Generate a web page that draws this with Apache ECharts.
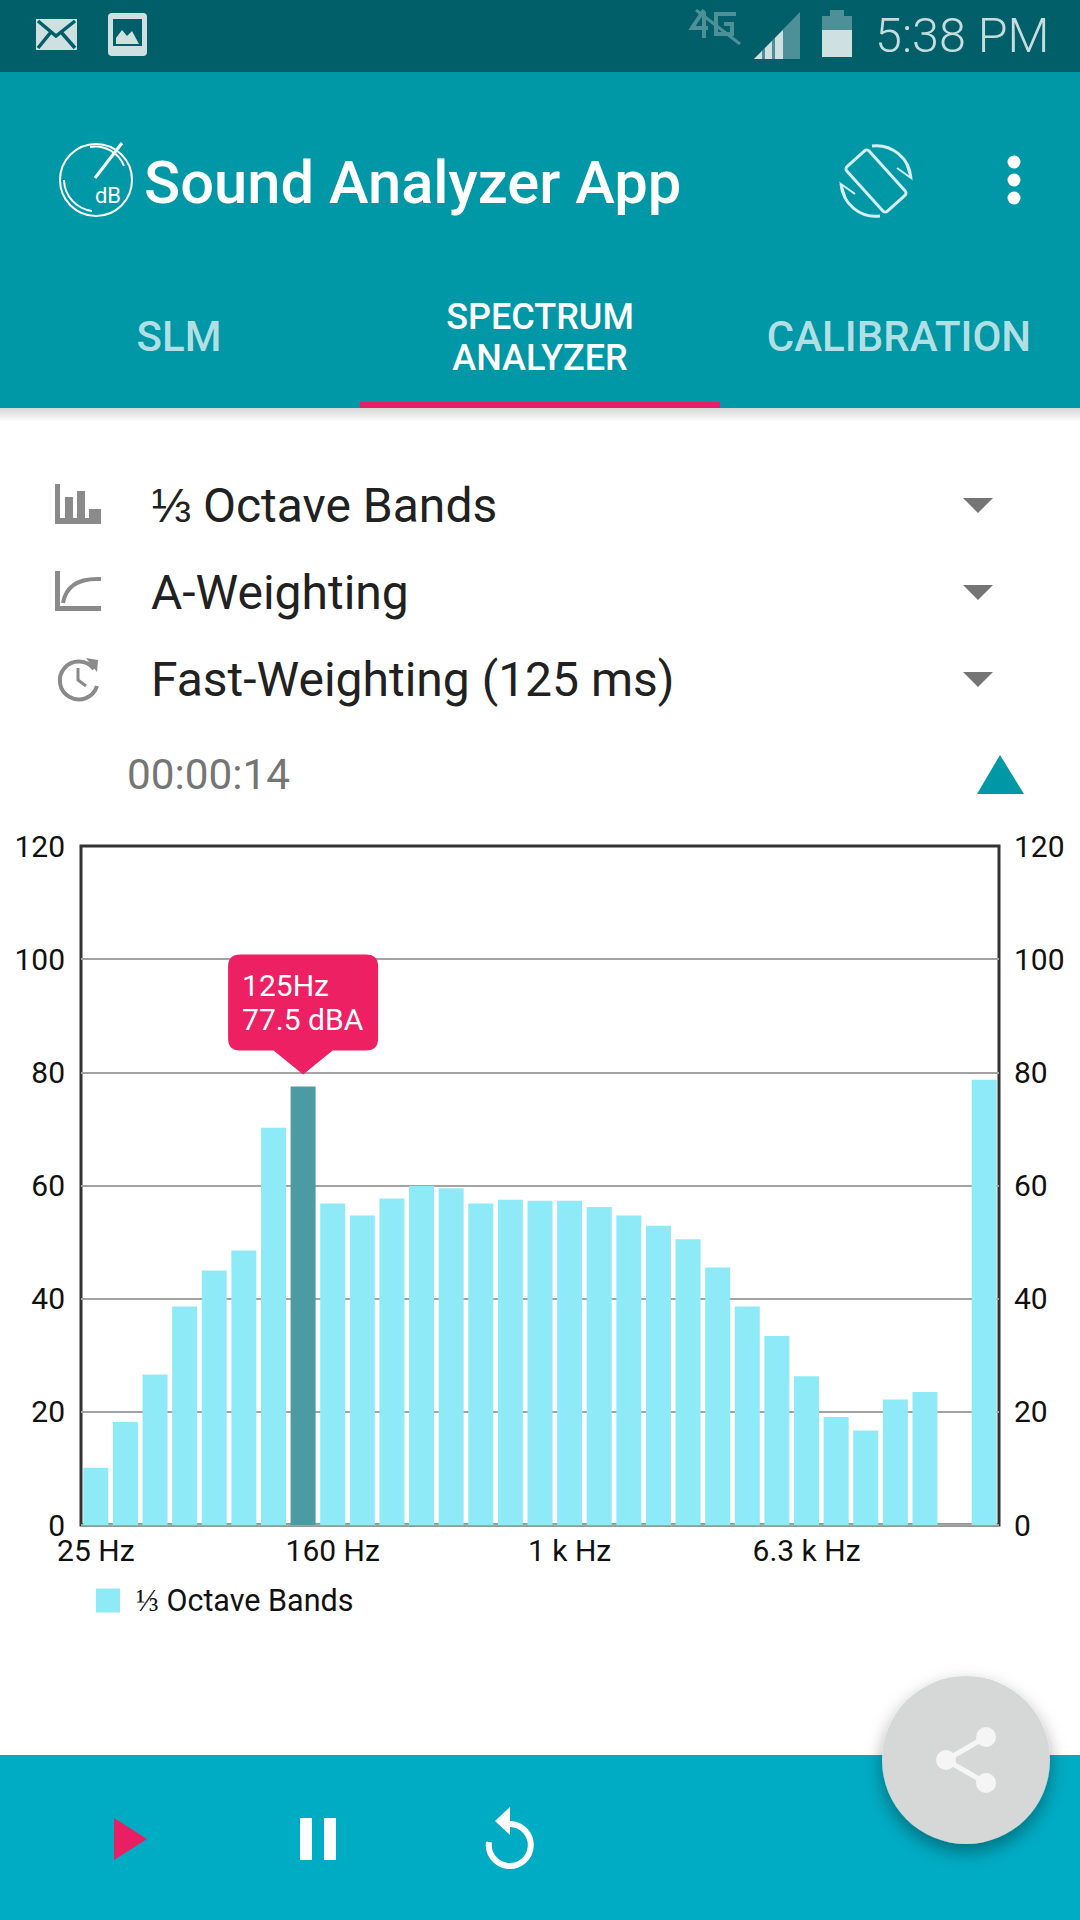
<!DOCTYPE html>
<html>
<head>
<meta charset="utf-8">
<title>Sound Analyzer App</title>
<script src="https://cdn.jsdelivr.net/npm/echarts@6/dist/echarts.min.js"></script>
<style>
  html, body { margin: 0; padding: 0; background: #fff; }
  #page { position: relative; width: 1080px; height: 1920px; overflow: hidden; font-family: Roboto, sans-serif; }
  #chrome { position: absolute; left: 0; top: 0; }
  #chart { position: absolute; left: 0; top: 820px; width: 1080px; height: 820px; }
  #fab { position: absolute; left: 0; top: 0; }
  text { font-family: Roboto, sans-serif; }
</style>
</head>
<body>
<div id="page">
  <svg id="chrome" width="1080" height="1920" viewBox="0 0 1080 1920">
    <defs>
      <linearGradient id="barShadow" x1="0" y1="0" x2="0" y2="1">
        <stop offset="0" stop-color="#000" stop-opacity="0.16"/>
        <stop offset="1" stop-color="#000" stop-opacity="0"/>
      </linearGradient>
    </defs>
    <!-- status bar -->
    <rect x="0" y="0" width="1080" height="72" fill="#005f69"/>
    <rect x="36" y="19" width="41" height="31" fill="#cfe0e0"/>
    <path d="M38 21 L56 36 L75 21 M38 48 L51 32 M75 48 L61 32" fill="none" stroke="#005f69" stroke-width="3.5"/>
    <rect x="108" y="13" width="39" height="43" rx="4" fill="#cfe0e0"/>
    <rect x="113" y="19" width="29" height="27" fill="#005f69"/>
    <path d="M116 44 L116 38 L122 30 L127 36 L132 31 L139 44 Z" fill="#cfe0e0"/>
    <g fill="none" stroke="#4d9097" stroke-width="4">
      <path d="M704 10 L692 28 L708 28 M704 12 L704 38"/>
      <path d="M736 14 L716 14 L716 34 L732 34 L732 24 L724 24"/>
      <path d="M696 10 L740 44" stroke-width="3"/>
    </g>
    <path d="M754 59 L800 12 L800 59 Z" fill="#4d9097"/>
    <path d="M754 59 L762 51 L762 59 Z M765 59 L765 48 L772 41 L772 59 Z M775 59 L775 38 L783 30 L783 59 Z" fill="#cfe0e0"/>
    <rect x="822" y="16" width="30" height="41" fill="#cfe0e0"/>
    <rect x="822" y="16" width="30" height="14" fill="#4d9097"/>
    <rect x="830" y="10" width="14" height="6" fill="#4d9097"/>
    <text x="875" y="52" font-size="48.5" font-weight="300" fill="#c6dcdd">5:38 PM</text>

    <!-- toolbar and tabs -->
    <rect x="0" y="72" width="1080" height="336" fill="#0097a7"/>
    <rect x="0" y="408" width="1080" height="14" fill="url(#barShadow)"/>
    <g fill="none" stroke="#fff" stroke-width="2">
      <circle cx="96" cy="180" r="36"/>
      <path d="M90 147 A31 31 0 0 1 124 166"/>
      <path d="M64 180 A32 32 0 0 0 92 211"/>
      <path d="M95 178 L122 143" stroke-width="3"/>
    </g>
    <text x="108" y="203" font-size="22" fill="#fff" text-anchor="middle">dB</text>
    <text x="144" y="203" font-size="59.7" font-weight="500" fill="#fff">Sound Analyzer App</text>
    <g fill="none" stroke="#d7eef0" stroke-width="3">
      <rect x="-15" y="-30" width="30" height="60" rx="3" transform="translate(876 181) rotate(-42)"/>
      <path d="M872 146 A35 35 0 0 1 911 178"/>
      <path d="M841 184 A35 35 0 0 0 880 216"/>
      <path d="M905 160 L911 178 L897 168" stroke-width="2"/>
      <path d="M847 202 L841 184 L855 194" stroke-width="2"/>
    </g>
    <circle cx="1014" cy="162" r="6.5" fill="#fff"/>
    <circle cx="1014" cy="180" r="6.5" fill="#fff"/>
    <circle cx="1014" cy="198" r="6.5" fill="#fff"/>
    <text x="179" y="351" font-size="42" font-weight="500" fill="#b2dfe3" text-anchor="middle">SLM</text>
    <text x="540" y="329" font-size="36" font-weight="500" fill="#fff" text-anchor="middle">SPECTRUM</text>
    <text x="540" y="370" font-size="36" font-weight="500" fill="#fff" text-anchor="middle">ANALYZER</text>
    <text x="899" y="351" font-size="42" font-weight="500" fill="#b2dfe3" text-anchor="middle">CALIBRATION</text>
    <rect x="360" y="402" width="360" height="6" fill="#e91e63"/>

    <!-- selectors -->
    <g fill="#8a8a8a">
      <path d="M55 484 H60 V518 H65 V497 H73 V518 H77 V491 H85 V518 H89 V509 H101 V524 H55 Z"/>
      <path d="M55 571 H60 V606 H101 V611 H55 Z"/>
    </g>
    <path d="M63 603 C66 585 80 578 101 579" fill="none" stroke="#8a8a8a" stroke-width="4"/>
    <path d="M94 669 A19 19 0 1 0 97 686" fill="none" stroke="#8a8a8a" stroke-width="4"/>
    <path d="M86 658 L98 660 L97 672 Z" fill="#8a8a8a"/>
    <path d="M78 668 V680 L86 686" fill="none" stroke="#8a8a8a" stroke-width="3"/>
    <text x="151" y="522" font-size="48" fill="#212121">⅓ Octave Bands</text>
    <text x="151" y="609" font-size="48" fill="#212121">A-Weighting</text>
    <text x="151" y="696" font-size="48" fill="#212121">Fast-Weighting (125 ms)</text>
    <path d="M963 498 H993 L978 513 Z" fill="#757575"/>
    <path d="M963 585 H993 L978 600 Z" fill="#757575"/>
    <path d="M963 672 H993 L978 687 Z" fill="#757575"/>
    <text x="127" y="789" font-size="42.3" fill="#757575">00:00:14</text>
    <path d="M977 794 L1000 755 L1024 794 Z" fill="#0097a7"/>

    <!-- bottom bar -->
    <rect x="0" y="1755" width="1080" height="165" fill="#00acc4"/>
    <path d="M114 1818 L147 1839 L114 1860 Z" fill="#e91e63"/>
    <rect x="300" y="1818" width="12" height="42" fill="#fff"/>
    <rect x="324" y="1818" width="12" height="42" fill="#fff"/>
    <path d="M510 1824 A21 21 0 1 1 489 1842" fill="none" stroke="#fff" stroke-width="6"/>
    <path d="M510 1807 L495 1821 L510 1835 Z" fill="#fff"/>
  </svg>

  <div id="chart"></div>

  <svg id="fab" width="1080" height="1920" viewBox="0 0 1080 1920">
    <defs>
      <filter id="fabShadow" x="-30%" y="-30%" width="160%" height="160%">
        <feDropShadow dx="0" dy="8" stdDeviation="9" flood-color="#000" flood-opacity="0.35"/>
      </filter>
    </defs>
    <circle cx="966" cy="1760" r="84" fill="#d6d8d8" filter="url(#fabShadow)"/>
    <path d="M986 1737 L946 1760 L986 1783" fill="none" stroke="#f5f5f5" stroke-width="5"/>
    <circle cx="986" cy="1737" r="10" fill="#f5f5f5"/>
    <circle cx="946" cy="1760" r="10" fill="#f5f5f5"/>
    <circle cx="986" cy="1783" r="10" fill="#f5f5f5"/>
  </svg>
</div>

<script>
var seriesName = '⅓ Octave Bands';
var bandLabels = ['25 Hz', '31.5 Hz', '40 Hz', '50 Hz', '63 Hz', '80 Hz', '100 Hz', '125 Hz',
  '160 Hz', '200 Hz', '250 Hz', '315 Hz', '400 Hz', '500 Hz', '630 Hz', '800 Hz',
  '1 k Hz', '1.25 k Hz', '1.6 k Hz', '2 k Hz', '2.5 k Hz', '3.15 k Hz', '4 k Hz', '5 k Hz',
  '6.3 k Hz', '8 k Hz', '10 k Hz', '12.5 k Hz', '16 k Hz', '20 k Hz', 'Total'];
var bandLevels = [10.1, 18.2, 26.6, 38.6, 45.0, 48.5, 70.2, 77.5,
  56.8, 54.7, 57.7, 59.9, 59.5, 56.8, 57.5, 57.3,
  57.3, 56.2, 54.7, 52.9, 50.5, 45.5, 38.6, 33.4,
  26.3, 19.1, 16.7, 22.2, 23.5, 0, 78.7];
var selectedBand = 7;
var calloutLines = ['125Hz', '77.5 dBA'];
var yTicks = [0, 20, 40, 60, 80, 100, 120];

var barColor = '#8feaf7';
var selectedColor = '#4c9aa3';
var accent = '#ec2063';
var calloutPath = 'path://M0 12Q0 0 12 0H138Q150 0 150 12V84Q150 96 138 96H104.5L75 120L45.5 96H12Q0 96 0 84Z';

var chart = echarts.init(document.getElementById('chart'), null, { renderer: 'svg' });

function yAxis(position, margin) {
  return {
    type: 'value',
    position: position,
    min: yTicks[0],
    max: yTicks[yTicks.length - 1],
    interval: yTicks[1] - yTicks[0],
    axisLine: { show: false },
    axisTick: { show: false },
    axisLabel: { color: '#111', fontSize: 30, lineHeight: 22, padding: [0, 0, 3, 0], fontFamily: 'Roboto', margin: margin },
    splitLine: { show: position === 'left', showMaxLine: false, lineStyle: { color: '#a3a3a3', width: 2 } }
  };
}

chart.setOption({
  animation: false,
  grid: {
    left: 81, right: 81, top: 26, height: 679,
    show: true, borderColor: '#333', borderWidth: 3, backgroundColor: 'transparent'
  },
  legend: {
    left: 91,
    top: 760,
    icon: 'rect',
    itemWidth: 24,
    itemHeight: 24,
    data: [seriesName],
    textStyle: { color: '#111', fontSize: 30.5, fontFamily: 'Roboto', padding: [0, 0, 0, 11] }
  },
  xAxis: {
    type: 'category',
    data: bandLabels,
    axisLine: { show: false },
    axisTick: { show: false },
    axisLabel: { color: '#111', fontSize: 30, lineHeight: 24, fontFamily: 'Roboto', interval: 7, margin: 13, hideOverlap: false }
  },
  yAxis: [yAxis('left', 16), yAxis('right', 15)],
  series: [{
    name: seriesName,
    type: 'bar',
    barWidth: 25,
    silent: true,
    itemStyle: { color: barColor },
    data: bandLevels.map(function(v, i) {
      return i === selectedBand ? { value: v, itemStyle: { color: selectedColor } } : v;
    }),
    markPoint: {
      silent: true,
      data: [{
        coord: [selectedBand, bandLevels[selectedBand]],
        symbol: calloutPath,
        symbolSize: [150, 120],
        symbolOffset: [0, -72],
        itemStyle: { color: accent },
        label: {
          show: true,
          position: 'insideTopLeft',
          distance: 0,
          padding: [14, 0, 0, 14],
          align: 'left',
          formatter: calloutLines.join('\n'),
          color: '#fff',
          fontSize: 30,
          lineHeight: 34,
          fontFamily: 'Roboto'
        }
      }]
    }
  }]
});

window.addEventListener('resize', function() {
  chart.resize();
});
</script>
</body>
</html>
